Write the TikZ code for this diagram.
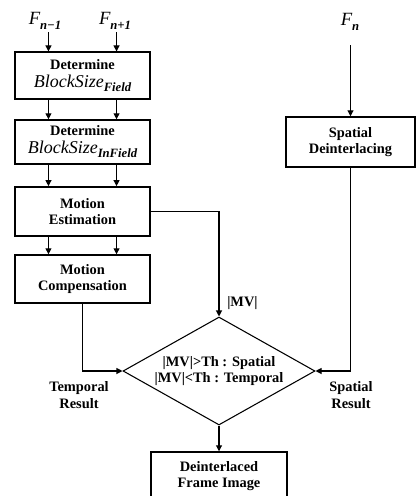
\documentclass[tikz,border=0pt]{standalone}
\usepackage{fontspec}
\setmainfont{Liberation Serif}
\usetikzlibrary{arrows.meta,shapes.geometric,calc}
\newcommand\bsz[1]{{\fontsize{13.5}{14}\selectfont\mdseries\itshape BlockSize}\raisebox{-3pt}{\fontsize{9.5}{10}\selectfont\bfseries\itshape #1}}
\newcommand\fsym[1]{{\fontsize{14}{14}\selectfont\itshape F}\raisebox{-4pt}{\fontsize{9.5}{10}\selectfont\bfseries\itshape #1}}
\begin{document}
\begin{tikzpicture}[x=0.75pt,y=-0.75pt,
  box/.style={draw,line width=1.1pt,align=center,inner sep=0pt,font=\fontsize{10.8}{12.5}\selectfont\bfseries},
  lbl/.style={align=center,font=\fontsize{10.8}{12.5}\selectfont\bfseries},
  arr/.style={line width=0.8pt,-{Triangle[length=4.5pt,width=4.5pt]}},
  ln/.style={line width=0.8pt}]
\clip (0,0) rectangle (416,496);
\useasboundingbox (0,0) rectangle (416,496);

% inputs
\node[inner sep=0pt] (f1) at (45,21) {\fsym{n−1}};
\node[inner sep=0pt] (f2) at (115,21) {\fsym{n+1}};
\node[inner sep=0pt] (fn) at (350,22) {\fsym{n}};

% left column boxes
\node[box,minimum width=101pt,minimum height=35pt] (b1) at (82.5,75.5) {Determine\\[1pt]\bsz{Field}};
\node[box,minimum width=101pt,minimum height=33pt] (b2) at (82.5,142) {Determine\\[1pt]\bsz{InField}};
\node[box,minimum width=101pt,minimum height=37pt] (b3) at (82.5,211.5) {Motion\\Estimation};
\node[box,minimum width=101pt,minimum height=36pt] (b4) at (82.5,279) {Motion\\Compensation};

% right column
\node[box,minimum width=97pt,minimum height=37.5pt] (sp) at (350.5,142) {Spatial\\Deinterlacing};

% decision
\node[draw,diamond,line width=0.8pt,inner sep=0pt,aspect=1.78,minimum width=144pt,minimum height=81pt,lbl] (dia) at (219,371) {|MV|>Th : Spatial\\|MV|<Th : Temporal};

% output
\node[box,minimum width=102pt,minimum height=36pt] (out) at (219,476) {Deinterlaced\\Frame Image};

% labels
\node[lbl,anchor=west,inner sep=0pt] (mv) at (227,303) {|MV|};
\node[lbl] (tr) at (79,395) {Temporal\\Result};
\node[lbl] (sr) at (351,395) {Spatial\\Result};

% arrows into first box
\coordinate (a1) at ($(b1.north west)!0.25!(b1.north east)$);
\coordinate (a2) at ($(b1.north west)!0.75!(b1.north east)$);
\coordinate (s1) at (a1 |- 0,32);
\coordinate (s2) at (a2 |- 0,32);
\draw[arr] (s1) -- (a1);
\draw[arr] (s2) -- (a2);

% arrows between left boxes
\foreach \u/\v in {b1/b2,b2/b3,b3/b4}{
  \draw[arr] ($(\u.south west)!0.25!(\u.south east)$) -- ($(\v.north west)!0.25!(\v.north east)$);
  \draw[arr] ($(\u.south west)!0.75!(\u.south east)$) -- ($(\v.north west)!0.75!(\v.north east)$);
}

% F_n to spatial
\coordinate (sn) at (sp.north |- 0,45);
\draw[arr] (sn) -- (sp.north);

% to decision
\draw[arr] (b3.east) -| (dia.north);
\draw[arr] (sp.south) |- (dia.east);
\draw[arr] (b4.south) |- (dia.west);
\draw[arr] (dia.south) -- (out.north);
\end{tikzpicture}
\end{document}
